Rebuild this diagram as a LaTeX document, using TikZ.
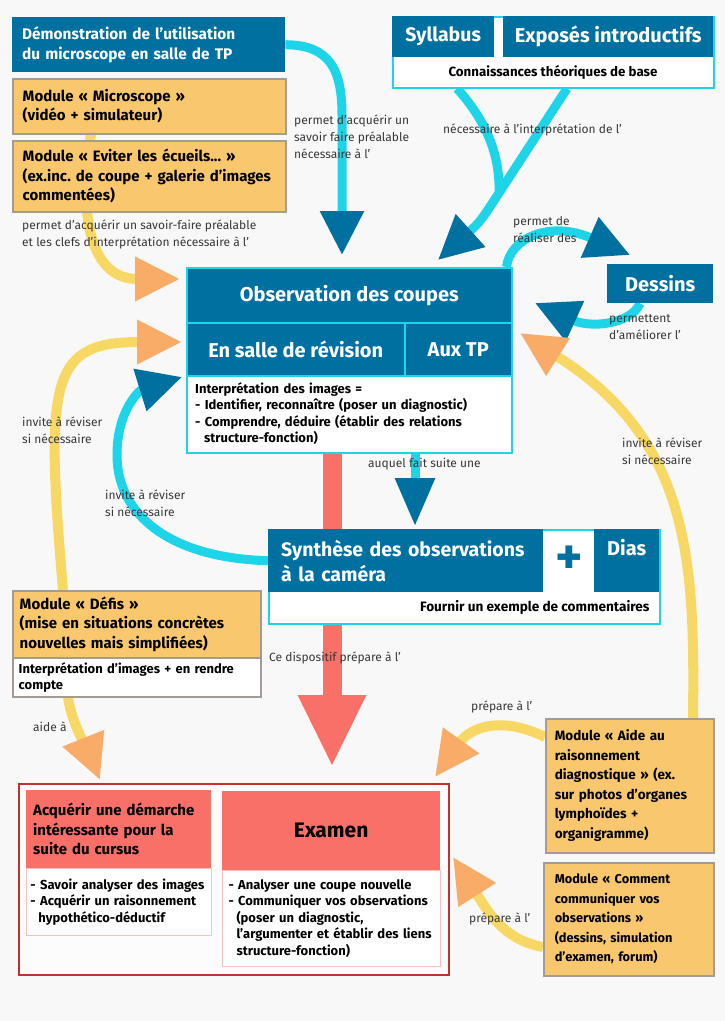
\documentclass[tikz,border=0pt]{standalone}
\usepackage{fontspec}
\setmainfont{Fira Sans}
\usetikzlibrary{arrows.meta, positioning, calc}
\definecolor{DeepBlue}{RGB}{0,112,160}
\definecolor{BrightCyan}{RGB}{30,212,232}
\definecolor{BoxOrange}{RGB}{248,199,110}
\definecolor{HeadOrange}{RGB}{248,172,104}
\definecolor{LineYellow}{RGB}{248,216,100}
\definecolor{BoxRed}{RGB}{248,112,104}
\definecolor{FrameRed}{RGB}{190,50,50}
\definecolor{FrameGray}{RGB}{165,155,150}
\definecolor{PageGray}{RGB}{248,248,248}
\newcommand{\fsz}[2]{\fontsize{#1}{#2}\selectfont}
\frenchspacing
\pgfdeclarelayer{back}
\pgfdeclarelayer{flows}
\pgfsetlayers{back,flows,main}

\begin{document}
\begin{tikzpicture}[
    x=1pt, y=-1pt,
    bluebox/.style={fill=DeepBlue, text=white, anchor=north west, inner ysep=0pt,
        font=\bfseries\fsz{20}{25}},
    framebox/.style={draw=BrightCyan, line width=1.5pt, fill=white, anchor=north west, inner sep=0pt},
    modbox/.style={fill=BoxOrange, draw=FrameGray, line width=1.5pt, anchor=north west,
        inner ysep=0pt, align=left, font=\bfseries\fsz{15}{19.5}},
    redbox/.style={fill=BoxRed, anchor=north west, inner ysep=0pt},
    listbox/.style={fill=white, draw=BoxRed!45, line width=1pt, anchor=north west, inner ysep=0pt,
        align=left, font=\bfseries\fsz{13}{16.5}},
    lbl/.style={font=\fsz{12}{17}, text=black!78, align=left, anchor=west, inner sep=0pt},
    cyanplain/.style={draw=BrightCyan, line width=9pt},
    cyanflow/.style={cyanplain, -{Triangle[length=44pt, width=42pt, color=DeepBlue]}},
    yelflow/.style={draw=LineYellow, line width=10pt, -{Triangle[length=45pt, width=42pt, color=HeadOrange]}},
    redflow/.style={draw=BoxRed, line width=19pt, -{Triangle[length=72pt, width=63pt, color=BoxRed]}},
]
\useasboundingbox (0,0) rectangle (725,1021);
\begin{pgfonlayer}{back}
\fill[PageGray] (0,0) rectangle (725,1021);
\end{pgfonlayer}

% modules en haut a gauche
\node[bluebox, font=\bfseries\fsz{15.4}{20}, text width=253, inner xsep=10, minimum height=55, align=left]
    (demo) at (12,17) {Démonstration de l'utilisation\\du microscope en salle de TP};
\node[modbox, text width=253, inner xsep=10, minimum height=55] (micro) at (12,78)
    {Module « Microscope »\\(vidéo + simulateur)};
\node[modbox, text width=253, inner xsep=10, minimum height=71] (ecueils) at (12,140)
    {Module « Eviter les écueils... »\\(ex.inc. de coupe + galerie d'images\\commentées)};

% connaissances de base
\node[framebox, minimum width=321, minimum height=71] (sylframe) at (392,16) {};
\node[bluebox, minimum width=102, minimum height=41, font=\bfseries\fsz{19.5}{24}] (syllabus) at (392,16) {Syllabus};
\node[bluebox, minimum width=210, minimum height=41] (exposes) at (503,16) {Exposés introductifs};
\node[font=\bfseries\fsz{13.3}{16}] (bases) at (553,72) {Connaissances théoriques de base};

% observation
\node[framebox, minimum width=325, minimum height=185] (obs) at (186,267) {};
\node[bluebox, draw=BrightCyan, line width=1.5pt, minimum width=325, minimum height=55] (obstitle) at (186,267) {Observation des coupes};
\node[bluebox, draw=BrightCyan, line width=1.5pt, minimum width=218, minimum height=53] (revision) at (186,322) {En salle de révision};
\node[bluebox, draw=BrightCyan, line width=1.5pt, minimum width=107, minimum height=53] (auxtp) at (404,322) {Aux TP};
\node[anchor=north west, font=\bfseries\fsz{13}{16.5}, text width=307, inner xsep=9, inner ysep=0pt,
      minimum height=77, align=left] (interp) at (186,375)
    {Interprétation des images =\\- Identifier, reconnaître (poser un diagnostic)\\- Comprendre, déduire (établir des relations\\\hspace*{9pt}structure-fonction)};

\node[bluebox, minimum width=106, minimum height=39] (dessins) at (607,264) {Dessins};

% synthese
\node[framebox, minimum width=391, minimum height=94] (synth) at (268,529) {};
\node[bluebox, text width=249, inner xsep=13, minimum height=63, align=left, font=\bfseries\fsz{19.5}{25}]
    (synthT) at (268,529) {Synthèse des observations\\à la caméra};
\node[font=\bfseries\fsz{52}{52}, text=DeepBlue] (plus) at (569,560) {+};
\node[bluebox, minimum width=65, text height=20pt, text depth=30pt, inner ysep=6.5pt] (dias) at (594,529) {Dias};
\node[font=\bfseries\fsz{13.6}{16}, anchor=east] (fournir) at (653,607) {Fournir un exemple de commentaires};

% defis
\node[modbox, text width=234, inner xsep=7, minimum height=67] (defis) at (12,590)
    {Module « Défis »\\(mise en situations concrètes\\nouvelles mais simplifiées)};
\node[anchor=north west, draw=FrameGray, line width=1.5pt, fill=white, text width=236, inner xsep=6,
      inner ysep=0pt, minimum height=39, align=left, font=\bfseries\fsz{13}{16}] (defisw) at (12,657)
    {Interprétation d'images + en rendre\\compte};

% bilan
\node[anchor=north west, draw=FrameRed, line width=1.5pt, fill=white!60!PageGray, minimum width=430,
      minimum height=191, inner sep=0pt] (bilan) at (18,783) {};
\node[redbox, text width=171, inner xsep=7, minimum height=78, align=left, font=\bfseries\fsz{15}{19.5}]
    (acq) at (26,790) {Acquérir une démarche\\intéressante pour la\\suite du cursus};
\node[listbox, text width=177, inner xsep=4, minimum height=67] (acqlist) at (26,868)
    {- Savoir analyser des images\\- Acquérir un raisonnement\\\hspace*{8pt}hypothético-déductif};
\node[redbox, minimum width=218, minimum height=79, font=\bfseries\fsz{21}{24}] (examen) at (222,791) {Examen};
\node[listbox, text width=206, inner xsep=6, minimum height=96] (exlist) at (222,870)
    {- Analyser une coupe nouvelle\\- Communiquer vos observations\\\hspace*{8pt}(poser un diagnostic,\\\hspace*{8pt}l'argumenter et établir des liens\\\hspace*{8pt}structure-fonction)};

% modules a droite
\node[modbox, text width=150, inner xsep=9, minimum height=134, font=\bfseries\fsz{13.5}{19.5}] (aide) at (545,718)
    {Module « Aide au\\raisonnement\\diagnostique » (ex.\\sur photos d'organes\\lymphoïdes +\\organigramme)};
\node[modbox, text width=148, inner xsep=11, minimum height=113, font=\bfseries\fsz{12.8}{19.5}] (comment) at (543,862)
    {Module « Comment\\communiquer vos\\observations »\\(dessins, simulation\\d'examen, forum)};

% pointes
\coordinate (tipExam) at (332,767);
\coordinate (tipDemo) at (342,255);
\coordinate (mergeSyl) at (499,193);
\coordinate (tipSyl) at (438,260);
\coordinate (tipDes) at (630,255);
\coordinate (tipBack) at (535,303);
\coordinate (tipRev) at (182,377);
\coordinate (tipSuite) at (415,526);
\coordinate (tipEcu) at (180,279);
\coordinate (tipDefi) at (182,342);
\coordinate (tipAide) at (100,780);
\coordinate (tipRight) at (520,333);
\coordinate (tipPrepA) at (435,777);
\coordinate (tipPrepB) at (453,857);

\begin{pgfonlayer}{flows}
% fleche rouge
\draw[redflow] (obs.south -| tipExam) -- (tipExam);
% fleches cyan
\draw[cyanflow] (demo.east) .. controls (330,45) and (342,70) .. (342,115) -- (tipDemo);
\draw[cyanplain] ($(sylframe.south west)+(65,0)$) .. controls (490,125) and (500,160) .. (mergeSyl);
\draw[cyanflow] ($(sylframe.south west)+(175,0)$) -- (mergeSyl) .. controls (480,222) .. (tipSyl);
\draw[cyanflow] ([xshift=-6pt]obs.north east) .. controls (510,238) and (550,220) .. (tipDes);
\draw[cyanflow] ([xshift=-20pt]dessins.south) .. controls (630,325) and (590,328) .. (tipBack);
\draw[cyanflow] (synthT.west) .. controls (170,558) and (117,515) .. (117,455)
    .. controls (117,410) and (140,390) .. (tipRev);
\draw[cyanplain, -{Triangle[length=48pt, width=38pt, color=DeepBlue]}] (obs.south -| tipSuite) -- (tipSuite);
% fleches jaunes
\draw[yelflow] ($(micro.south west)+(79,0)$) .. controls (78,215) and (90,279) .. (tipEcu);
\draw[yelflow] ($(defis.north west)+(51,0)$) .. controls (45,380) and (50,342) .. (tipDefi);
\draw[yelflow] ($(defisw.south west)+(56,0)$) .. controls (72,725) and (90,755) .. (tipAide);
\draw[yelflow] ($(aide.north west)+(148,0)$) .. controls (695,560) and (690,440) .. (tipRight);
\draw[yelflow] ($(aide.north west)+(0,19)$) .. controls (500,715) and (470,728) .. (tipPrepA);
\draw[yelflow] ($(comment.north west)+(0,85)$) .. controls (505,940) and (490,915) .. (tipPrepB);
\end{pgfonlayer}

% libelles
\node[lbl] (lbDemo) at (294,137) {permet d'acquérir un\\savoir faire préalable\\nécessaire à l'};
\node[lbl] (lbSyl) at (443,130) {nécessaire à l'interprétation de l'};
\node[lbl] (lbDes) at (513,230) {permet de\\réaliser des};
\node[lbl] (lbBack) at (609,327) {permettent\\d'améliorer l'};
\node[lbl] (lbRight) at (622,451) {invite à réviser\\si nécessaire};
\node[lbl] (lbEcu) at (22,234) {permet d'acquérir un savoir-faire préalable\\et les clefs d'interprétation nécessaire à l'};
\node[lbl] (lbDefi) at (22,430) {invite à réviser\\si nécessaire};
\node[lbl] (lbRev) at (105,503) {invite à réviser\\si nécessaire};
\node[lbl] (lbSuite) at (368,464) {auquel fait suite une};
\node[lbl] (lbExam) at (269,658) {Ce dispositif prépare à l'};
\node[lbl] (lbPrepA) at (471,707) {prépare à l'};
\node[lbl] (lbAide) at (33,727) {aide à};
\node[lbl] (lbPrepB) at (469,919) {prépare à l'};

\end{tikzpicture}
\end{document}
